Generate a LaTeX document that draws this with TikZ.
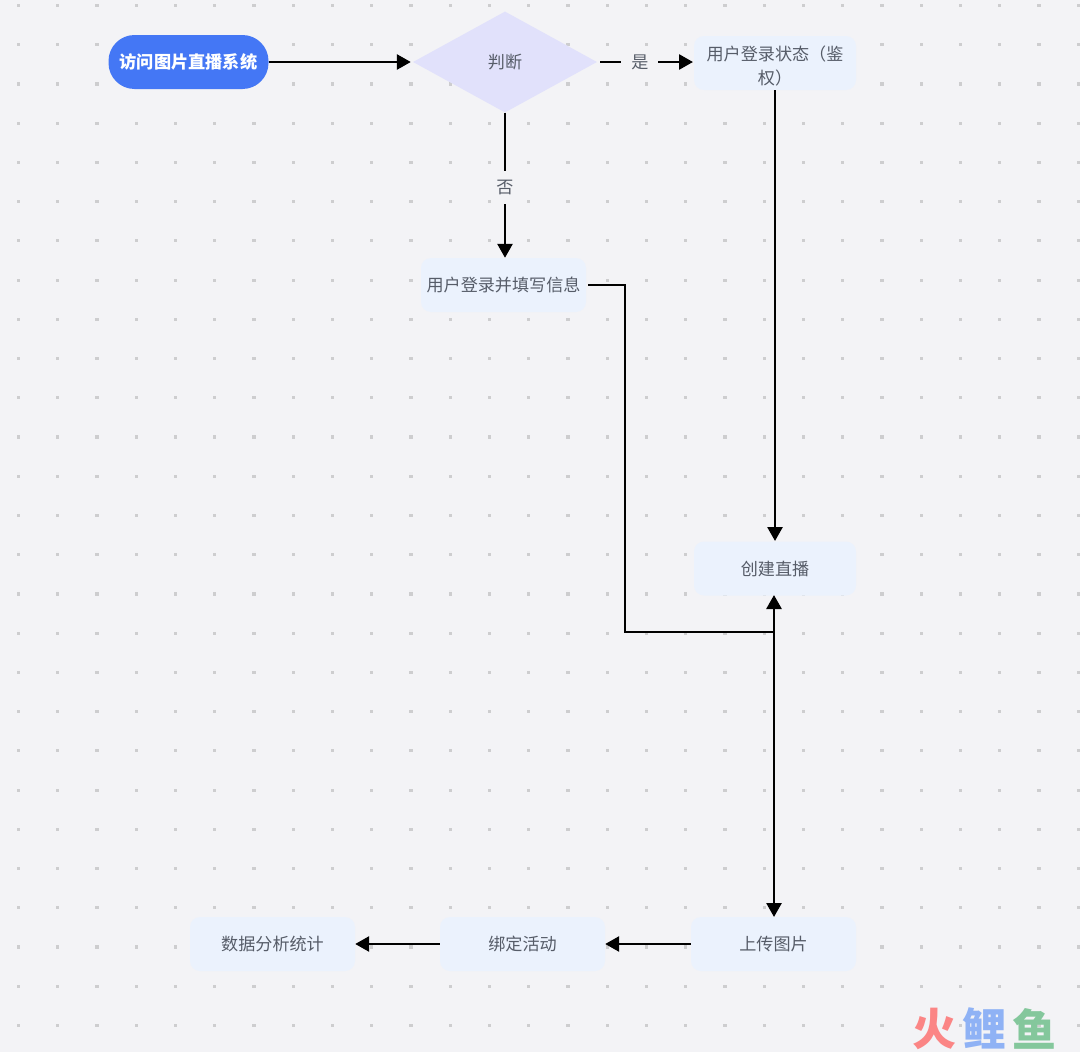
\documentclass[tikz,border=0pt]{standalone}
\usepackage{fontspec}
\setmainfont{Noto Sans CJK SC}
\newfontfamily\logofont[BoldFont={Noto Sans CJK SC Bold}]{Noto Sans CJK SC}
\usetikzlibrary{shapes.geometric,arrows.meta}
\definecolor{bgc}{HTML}{F3F3F6}
\definecolor{dotc}{HTML}{CDCDCF}
\definecolor{boxc}{HTML}{EBF2FD}
\definecolor{txtc}{HTML}{565C68}
\definecolor{startc}{HTML}{4477F5}
\definecolor{diac}{HTML}{E1E1FB}
\definecolor{logored}{HTML}{FB8585}
\definecolor{logoblue}{HTML}{8FB2F5}
\definecolor{logogreen}{HTML}{84C79C}
\tikzset{
  txt/.style={text=txtc,font=\fontsize{17.1}{24}\selectfont},
  stepbox/.style={txt,fill=boxc,rounded corners=10pt,minimum width=165pt,minimum height=54pt,inner sep=0pt,align=center},
  startbox/.style={fill=startc,text=white,font=\fontsize{17.2}{24}\selectfont\bfseries,rounded corners=26pt,minimum width=160pt,minimum height=54pt,inner sep=0pt},
  decide/.style={txt,shape=diamond,fill=diac,minimum width=184pt,minimum height=101pt,inner sep=0pt},
  conn/.style={line width=2.7pt,black},
  arr/.style={conn,-{Triangle[length=14pt,width=15pt]}},
  dblarr/.style={conn,{Triangle[length=14pt,width=15pt]}-{Triangle[length=14pt,width=15pt]}},
  edgelabel/.style={txt,fill=bgc,inner sep=0pt,minimum width=22pt,minimum height=33pt},
  griddot/.style={fill=dotc,draw=none},
  logotxt/.style={font=\fontsize{44}{44}\selectfont\bfseries,inner sep=0pt}
}
\begin{document}
\begin{tikzpicture}[x=1pt,y=-1pt]
\useasboundingbox (0,0) rectangle (1080,1052);
\fill[bgc] (0,0) rectangle (1080,1052);
\foreach \i in {0,...,27}{
  \foreach \j in {0,...,26}{
    \fill[griddot] ({18.5+39.25*\i-1.6},{5.5+39.23*\j-1.6}) rectangle ++(3.2,3.2);
  }
}
\node[startbox] (start) at (188.5,62) {访问图片直播系统};
\node[decide] (judge) at (505,62) {判断};
\node[stepbox,minimum width=162pt] (auth) at (775,63) {\rule{0pt}{20.5pt}用户登录状态（鉴\\权）};
\node[stepbox] (login) at (503.5,285) {用户登录并填写信息};
\node[stepbox,minimum width=162pt] (create) at (775,568.5) {创建直播};
\node[stepbox] (upload) at (773.5,944) {上传图片};
\node[stepbox] (bind) at (522.5,944) {绑定活动};
\node[stepbox] (stats) at (272.5,944) {数据分析统计};
\coordinate (elbow) at (625,632);
\coordinate (join) at (774,632);
\coordinate (loginout) at (588,285);
\coordinate (authin) at (775,541);
\coordinate (createup) at (774,595);
\coordinate (uploadtop) at (774,917);
\coordinate (authleft) at (693,62);
\draw[arr] (start.east) -- ([xshift=-2pt]judge.west);
\draw[arr,shorten <=3pt] (judge.east) -- node[edgelabel,pos=0.445,minimum width=37pt,minimum height=20pt] (yes) {是} (authleft);
\draw[arr] (judge.south) -- node[edgelabel,pos=0.517] (no) {否} ([xshift=1.5pt]login.north);
\draw[arr] (auth.south) -- (authin);
\draw[conn] (loginout) -| (elbow) -- (join);
\draw[dblarr] (createup) -- (uploadtop);
\draw[arr] (upload.west) -- (bind.east);
\draw[arr] (bind.west) -- (stats.east);
\node[logotxt,text=logored] (logoa) at (934,1028.5) {火};
\node[logotxt,text=logoblue] (logob) at (984,1028.5) {鲤};
\node[logotxt,text=logogreen] (logoc) at (1034,1028.5) {鱼};
\end{tikzpicture}
\end{document}
